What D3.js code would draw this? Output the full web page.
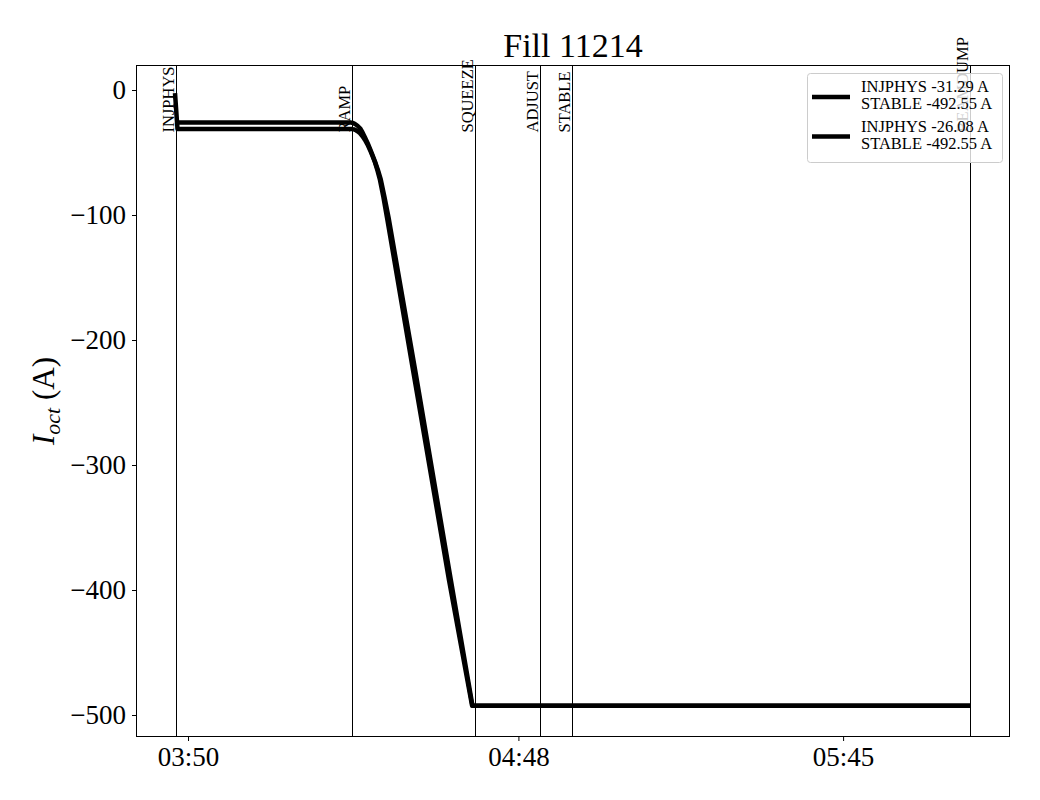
<!DOCTYPE html>
<html>
<head>
<meta charset="utf-8">
<script src="https://cdn.jsdelivr.net/npm/d3@7"></script>
<style>
  body { margin: 0; background: #fff; }
  svg { display: block; font-family: "Liberation Serif", "DejaVu Serif", serif; }
</style>
</head>
<body>
<svg id="chart" width="1040" height="800"></svg>
<script>
// ---- data ----
const title = "Fill 11214";
const s1Times = ["03:47:43","03:48:09","04:18:47","04:19:08","04:19:29","04:19:50","04:20:12","04:20:38","04:21:04","04:21:31","04:21:57","04:22:23","04:22:50","04:23:16","04:23:42","04:24:19","04:24:56","04:29:30","04:35:49","04:39:52","06:07:17"];
const s1Values = [-2.5,-31.29,-31.29,-31.5,-32.2,-33.2,-34.6,-37,-40,-43.7,-48,-52.8,-58,-64.5,-72,-86,-102,-224,-392,-492.55,-492.55];
const s2Times = ["03:48:04","04:18:37","04:18:58","04:19:19","04:19:45","04:20:12","04:20:38","04:21:04","04:21:31","04:21:57","04:22:23","04:22:50","04:23:20","04:23:50","04:24:30","04:25:12","04:29:52","04:36:08","04:39:56","06:07:17"];
const s2Values = [-26.08,-26.08,-26.4,-27.2,-28.6,-30.6,-34,-38,-42.3,-47,-52,-57.5,-64,-71.5,-86,-102,-224,-392,-492.55,-492.55];
const legendLabels = [["INJPHYS -31.29 A","STABLE -492.55 A"],["INJPHYS -26.08 A","STABLE -492.55 A"]];
const eventNames = ["INJPHYS","RAMP","SQUEEZE","ADJUST","STABLE","BEAMDUMP"];
const eventTimes = ["03:47:49","04:18:47","04:40:23","04:51:43","04:57:25","06:07:17"];
const xTickLabels = ["03:50","04:48","05:45"];
const yTicks = [0,-100,-200,-300,-400,-500];
const xDomain = ["03:40:52","06:14:18"];
const yDomain = [-517.6, 20];

// ---- setup ----
const parseT = d3.timeParse("%H:%M:%S");
const parseHM = d3.timeParse("%H:%M");
const svg = d3.select("#chart");
const L = 136, R = 1010, T = 65, B = 737;

svg.append("rect").attr("width",1040).attr("height",800).attr("fill","#fff");

const x = d3.scaleTime().domain(xDomain.map(parseT)).range([L, R]);
const y = d3.scaleLinear().domain(yDomain).range([B, T]);

svg.append("defs").append("clipPath").attr("id","clip")
  .append("rect").attr("x",L).attr("y",T).attr("width",R-L).attr("height",B-T);

// event lines
const ev = svg.append("g");
eventNames.forEach((n,i) => {
  const xp = Math.round(x(parseT(eventTimes[i]))) + 0.5;
  ev.append("line").attr("x1",xp).attr("x2",xp).attr("y1",T).attr("y2",B)
    .attr("stroke","#000").attr("stroke-width",1);
  ev.append("text")
    .attr("transform",`translate(${xp-3},132.5) rotate(-90)`)
    .attr("font-size",16.5).attr("fill","#000")
    .text(n);
});

// series
const line = d3.line().x(d=>x(d[0])).y(d=>y(d[1]));
const s1 = s1Times.map((t,i)=>[parseT(t), s1Values[i]]);
const s2 = s2Times.map((t,i)=>[parseT(t), s2Values[i]]);
const lg = svg.append("g").attr("clip-path","url(#clip)");
[s1, s2].forEach(s => {
  lg.append("path").datum(s).attr("d",line)
    .attr("fill","none").attr("stroke","#000").attr("stroke-width",4.5)
    .attr("stroke-linejoin","round").attr("stroke-linecap","butt");
});

// axes
const xAxis = d3.axisBottom(x).tickValues(xTickLabels.map(parseHM))
  .tickFormat(d3.timeFormat("%H:%M")).tickSize(4).tickPadding(5);
const gx = svg.append("g").attr("transform",`translate(0,${B})`).call(xAxis);
gx.select(".domain").remove();
gx.selectAll("text").attr("font-size",27).attr("font-family","Liberation Serif, serif").attr("fill","#000").attr("dy","0.75em");

const yAxis = d3.axisLeft(y).tickValues(yTicks).tickSize(4).tickPadding(6);
const gy = svg.append("g").attr("transform",`translate(${L},0)`).call(yAxis);
gy.select(".domain").remove();
gy.selectAll("text").attr("font-size",27).attr("font-family","Liberation Serif, serif").attr("fill","#000");

// frame
svg.append("rect").attr("x",L+0.5).attr("y",T+0.5).attr("width",R-L-1).attr("height",B-T-1)
  .attr("fill","none").attr("stroke","#000").attr("stroke-width",1);

// title
svg.append("text").attr("x",(L+R)/2).attr("y",57).attr("text-anchor","middle")
  .attr("font-size",34).attr("fill","#000").text(title);

// y label
const yl = svg.append("text").attr("transform",`translate(54,401) rotate(-90)`)
  .attr("text-anchor","middle").attr("font-size",31).attr("fill","#000");
yl.append("tspan").attr("font-style","italic").text("I");
yl.append("tspan").attr("font-style","italic").attr("font-size",22).attr("dy",6).text("oct");
yl.append("tspan").attr("dy",-6).text(" (A)");

// legend
const leg = svg.append("g");
leg.append("rect").attr("x",807.5).attr("y",73.5).attr("width",195).attr("height",89).attr("rx",3)
  .attr("fill","#fff").attr("fill-opacity",0.8).attr("stroke","#ccc").attr("stroke-width",1);
legendLabels.forEach((lab,i) => {
  const base = 95 + i*39.5;
  leg.append("line").attr("x1",812).attr("x2",850).attr("y1",base+2).attr("y2",base+2)
    .attr("stroke","#000").attr("stroke-width",4.5);
  lab.forEach((t,j) => {
    leg.append("text").attr("x",861).attr("y",base - 3 + j*17).attr("font-size",16.5).attr("fill","#000").text(t);
  });
});
</script>
</body>
</html>
